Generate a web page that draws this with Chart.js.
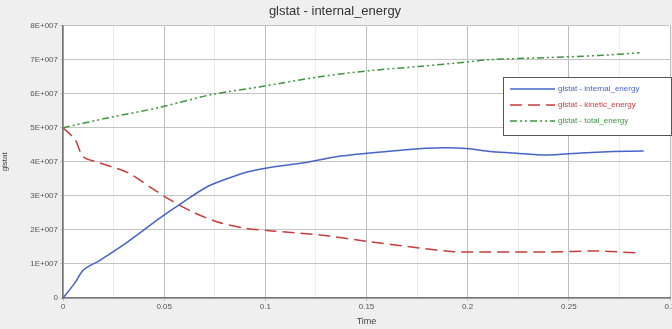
<!DOCTYPE html>
<html>
<head>
    <title>glstat - internal_energy</title>
    <script src="https://cdn.jsdelivr.net/npm/chart.js"></script>
    <style>
        body { margin: 0; background: #efefef; overflow: hidden; }
    </style>
</head>
<body>
    <canvas id="glstatChart" width="685" height="329"></canvas>

    <script>
        // values
        const internalTime = [0, 0.006, 0.01, 0.018, 0.032, 0.048, 0.059, 0.071, 0.081, 0.091, 0.103, 0.119, 0.135, 0.152, 0.168, 0.188, 0.201, 0.211, 0.222, 0.239, 0.256, 0.272, 0.287];
        const internalEnergy = [0, 0.45e7, 0.82e7, 1.1e7, 1.65e7, 2.35e7, 2.8e7, 3.26e7, 3.5e7, 3.7e7, 3.84e7, 3.97e7, 4.15e7, 4.26e7, 4.35e7, 4.41e7, 4.38e7, 4.3e7, 4.26e7, 4.2e7, 4.26e7, 4.3e7, 4.32e7];

        const kineticTime = [0, 0.006, 0.01, 0.018, 0.032, 0.045, 0.053, 0.064, 0.076, 0.089, 0.103, 0.127, 0.152, 0.176, 0.193, 0.211, 0.239, 0.264, 0.285];
        const kineticEnergy = [5e7, 4.65e7, 4.15e7, 3.97e7, 3.68e7, 3.18e7, 2.88e7, 2.53e7, 2.24e7, 2.06e7, 1.97e7, 1.85e7, 1.65e7, 1.47e7, 1.36e7, 1.35e7, 1.35e7, 1.38e7, 1.32e7];

        const totalTime = [0, 0.023, 0.048, 0.073, 0.097, 0.107, 0.127, 0.152, 0.176, 0.201, 0.211, 0.239, 0.264, 0.285];
        const totalEnergy = [5e7, 5.3e7, 5.6e7, 5.97e7, 6.2e7, 6.3e7, 6.5e7, 6.68e7, 6.8e7, 6.94e7, 7.0e7, 7.06e7, 7.12e7, 7.2e7];

        const seriesNames = ['glstat - internal_energy', 'glstat - kinetic_energy', 'glstat - total_energy'];

        function points(xs, ys) {
            return xs.map((x, i) => ({ x: x, y: ys[i] }));
        }

        // white plot area
        const plotBg = {
            id: 'plotBg',
            beforeDraw(chart) {
                const a = chart.chartArea, c = chart.ctx;
                c.save();
                c.fillStyle = '#ffffff';
                c.fillRect(a.left, a.top, a.right - a.left, a.bottom - a.top);
                c.restore();
            }
        };

        // legend box inside the plot, top right
        const boxLegend = {
            id: 'boxLegend',
            afterDraw(chart) {
                const c = chart.ctx;
                const x = 503, y = 77, w = 168, h = 58;
                c.save();
                c.fillStyle = '#ffffff';
                c.fillRect(x, y, w, h);
                c.strokeStyle = '#555555';
                c.lineWidth = 1;
                c.strokeRect(x + 0.5, y + 0.5, w, h);
                c.font = '8px "Liberation Sans", Arial, sans-serif';
                c.textBaseline = 'middle';
                chart.data.datasets.forEach((ds, i) => {
                    const ly = y + 12 + i * 16;
                    c.strokeStyle = ds.borderColor;
                    c.lineWidth = 1.5;
                    c.setLineDash(ds.borderDash || []);
                    c.beginPath();
                    c.moveTo(x + 7, ly);
                    c.lineTo(x + 52, ly);
                    c.stroke();
                    c.setLineDash([]);
                    c.fillStyle = ds.borderColor;
                    c.fillText(ds.label, x + 55, ly);
                });
                c.restore();
            }
        };

        new Chart(document.getElementById('glstatChart'), {
            type: 'line',
            data: {
                datasets: [{
                    label: seriesNames[0],
                    data: points(internalTime, internalEnergy),
                    borderColor: 'rgb(70, 100, 200)',
                    borderWidth: 1.5,
                    tension: 0.3
                }, {
                    label: seriesNames[1],
                    data: points(kineticTime, kineticEnergy),
                    borderColor: 'rgb(200, 60, 60)',
                    borderWidth: 1.5,
                    borderDash: [12, 6],
                    tension: 0.3
                }, {
                    label: seriesNames[2],
                    data: points(totalTime, totalEnergy),
                    borderColor: 'rgb(60, 150, 60)',
                    borderWidth: 1.5,
                    borderDash: [7, 3, 2, 3, 2, 3],
                    tension: 0.3
                }]
            },
            options: {
                responsive: false,
                animation: false,
                pointRadius: 0,
                elements: { point: { radius: 0 } },
                layout: { padding: { right: 15, top: 0 } },
                plugins: {
                    legend: { display: false },
                    tooltip: { enabled: false },
                    title: {
                        display: true,
                        text: 'glstat - internal_energy',
                        color: '#333333',
                        font: { size: 13, family: '"Liberation Sans", Arial, sans-serif', weight: 'normal' },
                        padding: { top: 4, bottom: 6 }
                    }
                },
                scales: {
                    x: {
                        type: 'linear',
                        min: 0,
                        max: 0.3,
                        ticks: {
                            stepSize: 0.025,
                            autoSkip: false,
                            maxRotation: 0,
                            color: '#555555',
                            font: { size: 8, family: '"Liberation Sans", Arial, sans-serif' },
                            padding: 1,
                            callback: (v, i) => i % 2 === 0 ? String(+v.toFixed(2)) : ''
                        },
                        grid: {
                            color: ctx => ctx.index % 2 === 0 ? '#bdbdbd' : '#ececec',
                            tickLength: 3
                        },
                        border: { color: '#777777', width: 1.5 },
                        title: {
                            display: true,
                            text: 'Time',
                            color: '#444444',
                            font: { size: 9, family: '"Liberation Sans", Arial, sans-serif' },
                            padding: { top: 0, bottom: 2 }
                        },
                        afterFit(scale) { scale.height = 31; }
                    },
                    y: {
                        min: 0,
                        max: 8e7,
                        ticks: {
                            stepSize: 1e7,
                            color: '#555555',
                            font: { size: 8, family: '"Liberation Sans", Arial, sans-serif' },
                            padding: 2,
                            callback: v => v === 0 ? '0' : (v / 1e7) + 'E+007'
                        },
                        grid: {
                            color: '#c4c4c4',
                            tickLength: 3
                        },
                        border: { color: '#777777', width: 1.5 },
                        title: {
                            display: true,
                            text: 'glstat',
                            color: '#444444',
                            font: { size: 8, family: '"Liberation Sans", Arial, sans-serif' },
                            padding: { top: 0, bottom: 0 }
                        },
                        afterFit(scale) { scale.width = 63; }
                    }
                }
            },
            plugins: [plotBg, boxLegend]
        });
    </script>
</body>
</html>
